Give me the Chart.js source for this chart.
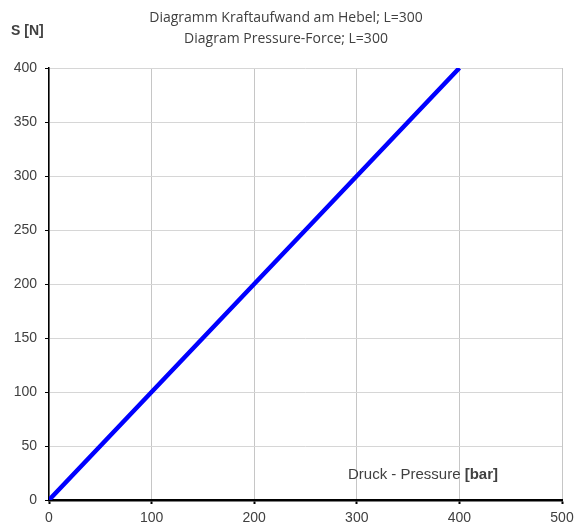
<!DOCTYPE html>
<html>
<head>
<meta charset="utf-8">
<script src="https://cdn.jsdelivr.net/npm/chart.js@4"></script>
<style>
  html, body { margin: 0; padding: 0; background: #fff; }
  #wrap { width: 580px; height: 525px; }
</style>
</head>
<body>
<div id="wrap"><canvas id="leverChart" width="580" height="525"></canvas></div>
<script>
// pressure in bar vs. force in N
const pressure = [0, 100, 200, 300, 400];
const force = [0, 100, 200, 300, 400];
const titleLines = ["Diagramm Kraftaufwand am Hebel; L=300", "Diagram Pressure-Force; L=300"];
const yLabel = "S [N]";
const xLabel = "Druck - Pressure ";
const xUnit = "[bar]";

const textColor = "#404040";

// titles and axis captions
const captions = {
    id: "captions",
    afterDraw(chart) {
        const ctx = chart.ctx;
        ctx.save();
        ctx.fillStyle = textColor;
        ctx.textBaseline = "middle";
        ctx.textAlign = "center";
        ctx.font = "14px 'Open Sans'";
        ctx.fillText(titleLines[0], 286, 18);
        ctx.fillText(titleLines[1], 286, 39);

        ctx.textAlign = "left";
        ctx.font = "bold 14px 'Liberation Sans'";
        ctx.fillText(yLabel, 11, 31);

        ctx.font = "15px 'Liberation Sans'";
        const w = ctx.measureText(xLabel).width;
        ctx.font = "bold 15px 'Liberation Sans'";
        const wu = ctx.measureText(xUnit).width;
        const x0 = 498 - w - wu;
        ctx.font = "15px 'Liberation Sans'";
        ctx.fillText(xLabel, x0, 475);
        ctx.font = "bold 15px 'Liberation Sans'";
        ctx.fillText(xUnit, x0 + w, 475);
        ctx.restore();
    }
};

new Chart(document.getElementById("leverChart"), {
    type: "scatter",
    data: {
        datasets: [{
            data: pressure.map((p, i) => ({ x: p, y: force[i] })),
            showLine: true,
            borderColor: "#0000ff",
            borderWidth: 4.5,
            pointRadius: 0,
            fill: false
        }]
    },
    options: {
        responsive: false,
        animation: false,
        layout: { padding: { top: 68, right: 18, left: 0, bottom: 0 } },
        plugins: {
            legend: { display: false },
            title: { display: false },
            tooltip: { enabled: false }
        },
        scales: {
            x: {
                type: "linear",
                min: 0,
                max: 500,
                ticks: {
                    stepSize: 100,
                    color: textColor,
                    font: { family: "'Liberation Sans'", size: 14 },
                    padding: 6
                },
                grid: {
                    color: "#c6c6c6",
                    lineWidth: 1,
                    tickColor: "#000",
                    tickLength: 4,
                    tickWidth: 2
                },
                border: { color: "#000", width: 2.5 },
                afterFit(scale) { scale.height = 25; }
            },
            y: {
                min: 0,
                max: 400,
                ticks: {
                    stepSize: 50,
                    color: textColor,
                    font: { family: "'Liberation Sans'", size: 14 },
                    padding: 8
                },
                grid: {
                    color: "#d6d6d6",
                    lineWidth: 1,
                    tickColor: "#000",
                    tickLength: 4,
                    tickWidth: 1
                },
                border: { color: "#000", width: 1.5 },
                afterFit(scale) { scale.width = 49; }
            }
        }
    },
    plugins: [captions]
});
</script>
</body>
</html>
